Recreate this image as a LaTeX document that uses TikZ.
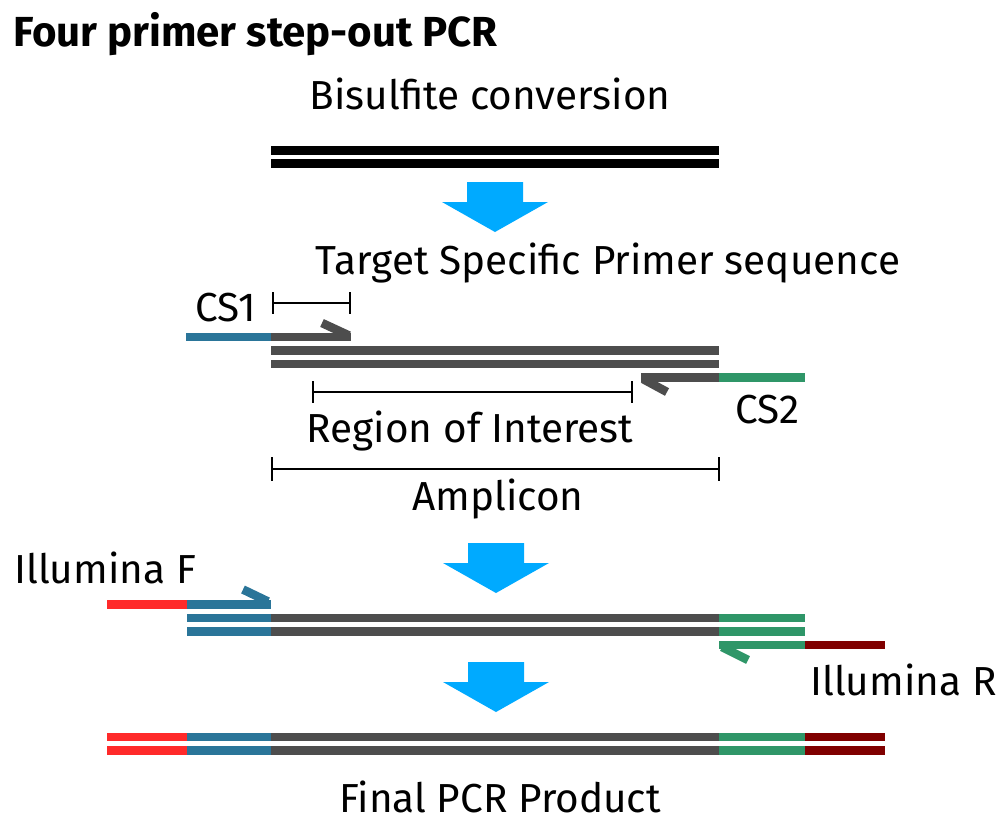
\documentclass[tikz,border=0pt]{standalone}
\usepackage{fontspec}
\setmainfont{Fira Sans}
\definecolor{dna}{HTML}{4D4D4D}
\definecolor{csblue}{HTML}{2A7599}
\definecolor{csgreen}{HTML}{2F9668}
\definecolor{illred}{HTML}{FF2A2A}
\definecolor{illdark}{HTML}{800000}
\definecolor{flowblue}{HTML}{00AAFF}
\newcommand{\pcrflow}[2]{%
  \fill[flowblue] ({#1-28},#2) -- ({#1+28},#2) -- ({#1+28},{#2+20}) -- ({#1+53},{#2+20})
    -- (#1,{#2+50}) -- ({#1-53},{#2+20}) -- ({#1-28},{#2+20}) -- cycle;}
\newcommand{\pcrbar}[4]{%
  \draw[scalebar] (#1,#3) -- (#2,#3);
  \draw[scalebar] (#1,{#3-#4}) -- (#1,{#3+#4});
  \draw[scalebar] (#2,{#3-#4}) -- (#2,{#3+#4});}
\begin{document}
\begin{tikzpicture}[x=1pt,y=-1pt,
  strand/.style={line width=8.6pt, line cap=butt},
  scalebar/.style={line width=2.4pt, line cap=butt, black},
  txt/.style={inner sep=0pt, anchor=base, font=\fontsize{40.5}{44}\selectfont},
  ttl/.style={inner sep=0pt, anchor=base west, font=\fontsize{42}{46}\selectfont\bfseries}]
\useasboundingbox (0,0) rectangle (1003,830);
\fill[white] (0,0) rectangle (1003,830);

% title and step labels
\node[ttl] (title) at (13,46) {Four primer step-out PCR};
\node[txt] (bis) at (490,109) {Bisulfite conversion};

% bisulfite strands
\draw[strand, black] (271,150.5) -- (719,150.5);
\draw[strand, black] (271,163.5) -- (719,163.5);

\pcrflow{495}{182}

\node[txt] (tsp) at (608,274) {Target Specific Primer sequence};

% section 2
\node[txt, anchor=base east] (cs1) at (256,321) {CS1};
\pcrbar{273}{350}{303}{11}
\draw[strand, csblue] (186,337) -- (271,337);
\draw[strand, dna] (271,337) -- (351,337);
\draw[strand, dna] (322,323) -- (349,335.5);
\draw[strand, dna] (271,350.5) -- (719,350.5);
\draw[strand, dna] (271,364) -- (719,364);
\draw[strand, dna] (641,377.5) -- (719,377.5);
\draw[strand, dna] (643,379) -- (667,392);
\draw[strand, csgreen] (719,377.5) -- (805,377.5);
\pcrbar{313}{632}{392}{11}
\node[txt] (roi) at (470,442) {Region of Interest};
\node[txt, anchor=base west] (cs2) at (735,423) {CS2};
\pcrbar{272}{719}{469}{12}
\node[txt] (amp) at (498,510) {Amplicon};

\pcrflow{496}{543}

% section 3
\node[txt, anchor=base west] (illf) at (14,583) {Illumina F};
\draw[strand, illred] (107,604.5) -- (187,604.5);
\draw[strand, csblue] (187,604.5) -- (271,604.5);
\draw[strand, csblue] (243,589.5) -- (268,601.5);
\foreach \yy in {618,631.5}{
  \draw[strand, csblue] (187,\yy) -- (271,\yy);
  \draw[strand, dna] (271,\yy) -- (719,\yy);
  \draw[strand, csgreen] (719,\yy) -- (805,\yy);
}
\draw[strand, csgreen] (719,645) -- (805,645);
\draw[strand, csgreen] (722,647) -- (748,660);
\draw[strand, illdark] (805,645) -- (885,645);
\node[txt, anchor=base west] (illr) at (810,695) {Illumina R};

\pcrflow{496}{662}

% final product
\foreach \yy in {737,750.5}{
  \draw[strand, illred] (107,\yy) -- (187,\yy);
  \draw[strand, csblue] (187,\yy) -- (271,\yy);
  \draw[strand, dna] (271,\yy) -- (719,\yy);
  \draw[strand, csgreen] (719,\yy) -- (805,\yy);
  \draw[strand, illdark] (805,\yy) -- (885,\yy);
}
\node[txt] (final) at (500,812) {Final PCR Product};
\end{tikzpicture}
\end{document}
